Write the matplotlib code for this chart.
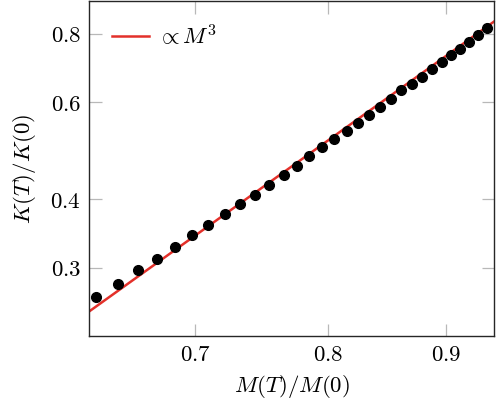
'''
plot.py

K(T)/K(0) against M(T)/M(0) on log-log axes, with the M^3 line.
'''

import matplotlib as mpl
mpl.use('Agg')
import matplotlib.pyplot as plt
import numpy as np

mpl.rcParams['font.family']      = 'serif'
mpl.rcParams['font.serif']       = ['DejaVu Serif']
mpl.rcParams['mathtext.fontset'] = 'cm'
mpl.rcParams['font.size']        = 16.5

# ---------------------------------------------------------------------------- #

# Data.
m_ratio = [0.634, 0.648, 0.661, 0.6736, 0.686, 0.698, 0.7094, 0.7211, 0.7326,
           0.7436, 0.7541, 0.7651, 0.7751, 0.7847, 0.795, 0.8048, 0.8151,
           0.8244, 0.8335, 0.8426, 0.8519, 0.8605, 0.870, 0.8788, 0.8874,
           0.896, 0.9044, 0.9129, 0.9211, 0.9292, 0.9377]
k_ratio = [0.265, 0.2805, 0.2967, 0.3114, 0.3275, 0.344, 0.3587, 0.3752,
           0.3912, 0.4073, 0.4242, 0.4419, 0.4588, 0.4797, 0.4969, 0.5151,
           0.5314, 0.5508, 0.5697, 0.589, 0.6092, 0.6318, 0.6487, 0.668,
           0.6899, 0.7105, 0.7326, 0.7512, 0.7737, 0.7956, 0.8183]

# Power law K ~ M^3.
power = 3
prefactor = 1.0

xticks = [0.7, 0.8, 0.9]
yticks = [0.3, 0.4, 0.6, 0.8]
xlim = (0.6297, 0.9445)
ylim = (0.2252, 0.9177)

line_color = '#e3302a'
tick_color = '0.72'
fs = 16.5

# ---------------------------------------------------------------------------- #

fig = plt.figure(figsize=(4.96, 4.03), dpi=100)
ax = fig.add_axes([0.180, 0.1663, 0.8166, 0.8312])

m_line = np.geomspace(xlim[0], xlim[1], 200)
ax.plot(m_line, prefactor * m_line**power, color=line_color, lw=1.8,
        label=r'$\propto M^3$', zorder=2)
ax.plot(m_ratio, k_ratio, 'o', color='black', ms=7, zorder=3)

ax.set_xscale('log')
ax.set_yscale('log')
ax.set_xlim(*xlim)
ax.set_ylim(*ylim)

ax.xaxis.set_minor_locator(mpl.ticker.NullLocator())
ax.yaxis.set_minor_locator(mpl.ticker.NullLocator())
ax.set_xticks(xticks, labels=['$%g$' % t for t in xticks])
ax.set_yticks(yticks, labels=['$%g$' % t for t in yticks])
ax.tick_params(which='major', direction='in', length=9, width=0.9,
               color=tick_color, top=True, right=True, pad=6,
               labelsize=fs)

for s in ax.spines.values():
    s.set_color('0.15')
    s.set_linewidth(1.0)

ax.set_xlabel(r'$M(T)/M(0)$', fontsize=fs, labelpad=5)
ax.set_ylabel(r'$K(T)/K(0)$', fontsize=fs, labelpad=9)

ax.legend(loc='upper left', frameon=False, handlelength=1.6,
          handletextpad=0.35, borderaxespad=0.6, fontsize=fs)

plt.savefig('out.png', dpi=100)
